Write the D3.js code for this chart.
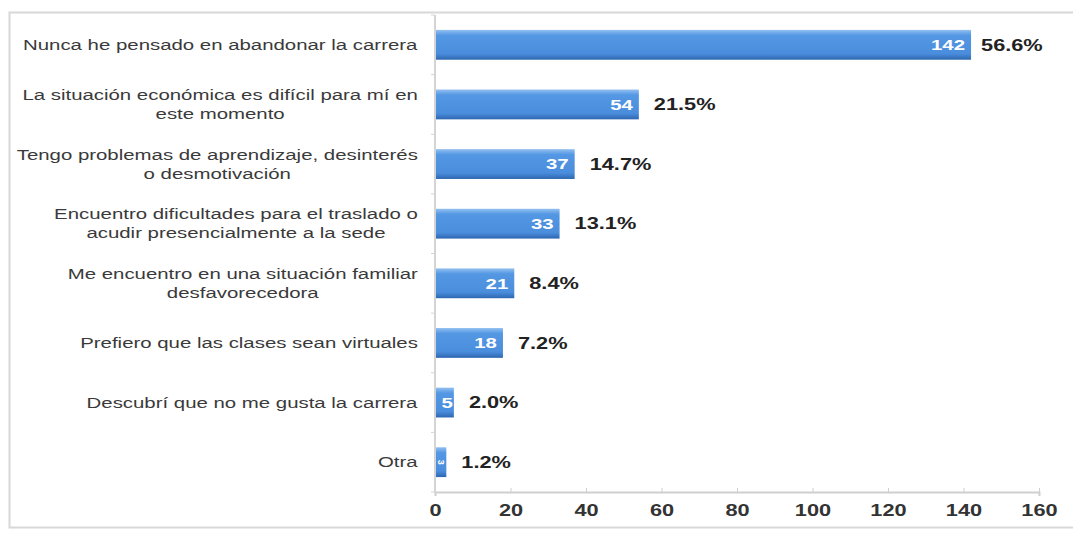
<!DOCTYPE html>
<html>
<head>
<meta charset="utf-8">
<script src="https://cdn.jsdelivr.net/npm/d3@7"></script>
<style>
  body { margin: 0; background: #fff; }
  text { font-family: "Liberation Sans", Arial, sans-serif; }
</style>
</head>
<body>
<div id="chart"></div>
<script>
var width = 1073;
var height = 534;
var stretch = 1.36; // the source image is stretched sideways

// data
var categories = [
  ["Nunca he pensado en abandonar la carrera"],
  ["La situación económica es difícil para mí en", "este momento"],
  ["Tengo problemas de aprendizaje, desinterés", "o desmotivación"],
  ["Encuentro dificultades para el traslado o", "acudir presencialmente a la sede"],
  ["Me encuentro en una situación familiar", "desfavorecedora"],
  ["Prefiero que las clases sean virtuales"],
  ["Descubrí que no me gusta la carrera"],
  ["Otra"]
];
var counts = [142, 54, 37, 33, 21, 18, 5, 3];
var percents = ["56.6%", "21.5%", "14.7%", "13.1%", "8.4%", "7.2%", "2.0%", "1.2%"];
var xTicks = [0, 20, 40, 60, 80, 100, 120, 140, 160];

function createSVG() {
  return d3.select("#chart")
    .append("svg")
    .attr("width", width)
    .attr("height", height);
}

function place(px, py) {
  return "translate(" + px + "," + py + ") scale(" + stretch + ",1)";
}

function main() {
  var svg = createSVG();

  // outer frame
  svg.append("rect")
    .attr("x", 9.5).attr("y", 12.5)
    .attr("width", width).attr("height", 515)
    .attr("fill", "none")
    .attr("stroke", "#d8d8d8")
    .attr("stroke-width", 2);

  var x = d3.scaleLinear().domain([0, 160]).range([435, 1039]);
  var idx = d3.range(categories.length);
  var y = d3.scaleBand().domain(idx).range([15, 492])
    .paddingInner(0.5).paddingOuter(0.25);

  var defs = svg.append("defs");
  var grad = defs.append("linearGradient")
    .attr("id", "barGrad")
    .attr("x1", 0).attr("x2", 0).attr("y1", 0).attr("y2", 1);
  grad.append("stop").attr("offset", "0%").attr("stop-color", "#93c0f0");
  grad.append("stop").attr("offset", "18%").attr("stop-color", "#5498e4");
  grad.append("stop").attr("offset", "80%").attr("stop-color", "#4a8ddc");
  grad.append("stop").attr("offset", "100%").attr("stop-color", "#2e66b0");

  // bottom axis
  var xAxis = d3.axisBottom(x).tickValues(xTicks).tickSize(4).tickPadding(10);
  var gx = svg.append("g")
    .attr("transform", "translate(0,492)")
    .call(xAxis);
  gx.select(".domain").attr("stroke", "#cfcfcf").attr("stroke-width", 2);
  gx.selectAll(".tick line").attr("stroke", "#cfcfcf").attr("transform", "translate(0,-4)");
  gx.selectAll(".tick text")
    .attr("fill", "#333")
    .attr("y", 0)
    .attr("dy", 0)
    .attr("transform", place(0, 24))
    .style("font-size", "16px")
    .style("font-weight", "bold");

  // left axis line
  svg.append("line")
    .attr("x1", 435).attr("x2", 435)
    .attr("y1", 15).attr("y2", 492)
    .attr("stroke", "#d4d4d4")
    .attr("stroke-width", 2);

  svg.selectAll(".ytick")
    .data(d3.range(categories.length + 1))
    .enter()
    .append("line")
    .attr("x1", 431).attr("x2", 435)
    .attr("y1", function(d) { return 15 + d * y.step(); })
    .attr("y2", function(d) { return 15 + d * y.step(); })
    .attr("stroke", "#d4d4d4");

  // bars
  svg.selectAll(".bar")
    .data(idx)
    .enter()
    .append("rect")
    .attr("x", x(0) + 1)
    .attr("y", function(d) { return y(d); })
    .attr("width", function(d) { return x(counts[d]) - x(0) - 1; })
    .attr("height", y.bandwidth())
    .attr("fill", "url(#barGrad)");

  // count labels inside bars
  svg.selectAll(".count")
    .data(idx)
    .enter()
    .append("text")
    .attr("transform", function(d) {
      var px = counts[d] < 10 ? x(counts[d]) - 1 : x(counts[d]) - 6;
      if (counts[d] < 4) {
        return "translate(" + (x(counts[d]) - 5.5) + "," + (y(d) + y.bandwidth() / 2) + ") rotate(90)";
      }
      return place(px, y(d) + y.bandwidth() / 2);
    })
    .attr("dy", "0.36em")
    .attr("text-anchor", function(d) { return counts[d] < 4 ? "middle" : "end"; })
    .attr("fill", "#fff")
    .style("font-weight", "bold")
    .style("font-size", function(d) { return counts[d] < 4 ? "9px" : "15px"; })
    .text(function(d) { return counts[d]; });

  // percentage labels
  svg.selectAll(".pct")
    .data(idx)
    .enter()
    .append("text")
    .attr("transform", function(d) {
      return place(x(counts[d]) + (counts[d] > 100 ? 10 : 15), y(d) + y.bandwidth() / 2);
    })
    .attr("dy", "0.36em")
    .attr("fill", "#222")
    .style("font-weight", "bold")
    .style("font-size", "16px")
    .text(function(d) { return percents[d]; });

  // category labels (centered lines, right aligned block)
  idx.forEach(function(i) {
    var lines = categories[i];
    var cy = y(i) + y.bandwidth() / 2;
    var t = svg.append("text")
      .attr("fill", "#3a3a3a")
      .style("font-size", "15px")
      .attr("text-anchor", "middle");
    lines.forEach(function(line, j) {
      t.append("tspan")
        .attr("x", 0)
        .attr("y", (j - (lines.length - 1) / 2) * 19)
        .attr("dy", "0.35em")
        .text(line);
    });
    var w = t.node().getBBox().width * stretch;
    t.attr("transform", place(418 - w / 2, cy));
  });
}

window.onload = function() {
  main();
};
</script>
</body>
</html>
